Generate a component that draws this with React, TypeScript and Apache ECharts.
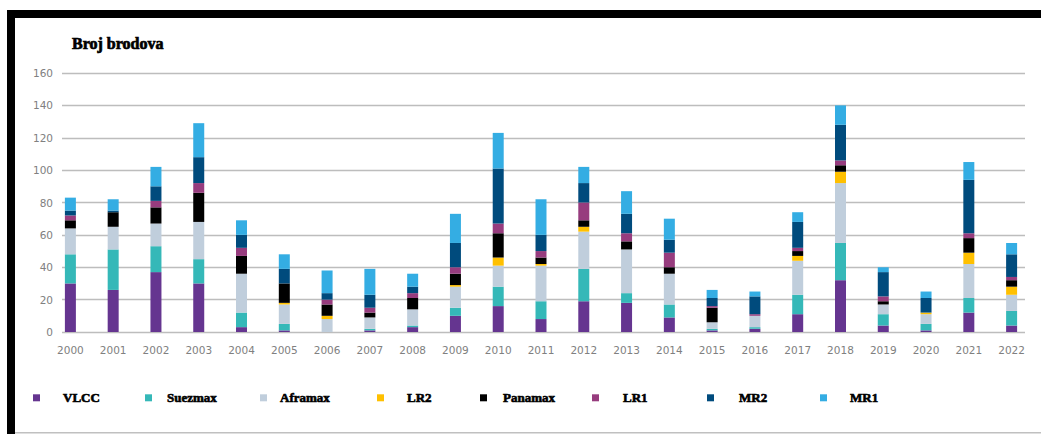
import React, { useEffect, useRef } from "react";
import * as echarts from "echarts";

const years = ["2000","2001","2002","2003","2004","2005","2006","2007","2008","2009","2010","2011","2012","2013","2014","2015","2016","2017","2018","2019","2020","2021","2022"];
const yTicks = [0, 20, 40, 60, 80, 100, 120, 140, 160];

const vlcc =    [30, 26, 37, 30, 3, 1, 0, 1, 3, 10, 16, 8, 19, 18, 9, 1, 2, 11, 32, 4, 1, 12, 4];
const suezmax = [18, 25, 16, 15, 9, 4, 0, 1, 1, 5, 12, 11, 20, 6, 8, 1, 1, 12, 23, 7, 4, 9, 9];
const aframax = [16, 14, 14, 23, 24, 12, 8, 7, 10, 13, 13, 22, 23, 27, 19, 4, 7, 21, 37, 6, 6, 21, 10];
const lr2 =     [0, 0, 0, 0, 0, 1, 2, 0, 0, 1, 5, 1, 3, 0, 0, 0, 0, 3, 7, 0, 1, 7, 5];
const panamax = [5, 9, 10, 18, 11, 12, 7, 3, 7, 7, 15, 4, 4, 5, 4, 9, 0, 3, 4, 2, 0, 9, 4];
const lr1 =     [3, 0, 4, 6, 5, 0, 3, 3, 3, 4, 6, 4, 11, 5, 9, 1, 1, 2, 3, 3, 0, 3, 2];
const mr2 =     [3, 1, 9, 16, 8, 9, 4, 8, 4, 15, 34, 10, 12, 12, 8, 5, 11, 16, 22, 15, 9, 33, 14];
const mr1 =     [8, 7, 12, 21, 9, 9, 14, 16, 8, 18, 22, 22, 10, 14, 13, 5, 3, 6, 12, 3, 4, 11, 7];

const seriesNames = ["VLCC", "Suezmax", "Aframax", "LR2", "Panamax", "LR1", "MR2", "MR1"];
const seriesData = [vlcc, suezmax, aframax, lr2, panamax, lr1, mr2, mr1];
const colors = ["#653590", "#35B8B8", "#C0CEDC", "#FFC000", "#000000", "#973C7E", "#004B7D", "#34ADE3"];

// legend layout (marker left, text start)
const legendMarkerX = [33, 145, 260, 377, 480, 592, 707, 820];
const legendTextX = [63, 167, 280, 407, 503, 623, 739, 850];

export default function App() {
  const ref = useRef<HTMLDivElement>(null);
  useEffect(() => {
    if (!ref.current) return;
    const chart = echarts.init(ref.current, undefined, { renderer: "svg" });
    const labelColor = "#808080";
    const option: any = {
      animation: false,
      backgroundColor: "#ffffff",
      title: {
        text: "Broj brodova",
        left: 72,
        top: 35,
        padding: 0,
        textStyle: {
          fontFamily: "Liberation Serif",
          fontWeight: "bold",
          fontSize: 16,
          color: "#000",
          textBorderColor: "#000",
          textBorderWidth: 0.7,
        },
      },
      legend: seriesNames.map((n, i) => ({
        data: [n],
        left: legendMarkerX[i],
        top: 391,
        padding: 0,
        icon: "rect",
        itemWidth: 7,
        itemHeight: 7,
        selectedMode: false,
        textStyle: {
          fontFamily: "Liberation Serif",
          fontWeight: "bold",
          fontSize: 13,
          color: "#000",
          textBorderColor: "#000",
          textBorderWidth: 0.6,
          padding: [0, 0, 0, legendTextX[i] - legendMarkerX[i] - 12],
        },
      })),
      grid: [
        { left: 62, right: 16, top: 73, bottom: 102 },
        { left: 49, right: 8, top: 73, bottom: 102 },
      ],
      xAxis: [
        { type: "category", gridIndex: 0, data: years, show: false },
        {
          type: "category",
          gridIndex: 1,
          data: years,
          axisLine: { show: false },
          axisTick: { show: false },
          axisLabel: { color: labelColor, fontFamily: "DejaVu Sans", fontSize: 10.5, margin: 12, interval: 0 },
        },
      ],
      yAxis: [
        {
          type: "value",
          gridIndex: 0,
          min: yTicks[0],
          max: yTicks[yTicks.length - 1],
          interval: yTicks[1] - yTicks[0],
          axisLine: { show: false },
          axisTick: { show: false },
          axisLabel: { color: labelColor, fontFamily: "DejaVu Sans", fontSize: 10.5, margin: 9 },
          splitLine: { lineStyle: { color: "#bdbdbd", width: 1.3 } },
        },
        {
          type: "value",
          gridIndex: 1,
          min: yTicks[0],
          max: yTicks[yTicks.length - 1],
          interval: yTicks[1] - yTicks[0],
          show: false,
          splitLine: { show: false },
        },
      ],
      graphic: [
        { type: "rect", shape: { x: 7, y: 10, width: 1034, height: 8 }, style: { fill: "#000" } },
        { type: "rect", shape: { x: 7, y: 10, width: 8, height: 424 }, style: { fill: "#000" } },
        { type: "rect", shape: { x: 15, y: 432, width: 1026, height: 1.5 }, style: { fill: "#c0c0c0" } },
      ],
      series: seriesNames.map((n, i) => ({
        name: n,
        type: "bar",
        stack: "total",
        xAxisIndex: 1,
        yAxisIndex: 1,
        barWidth: 11,
        data: seriesData[i],
        itemStyle: { color: colors[i] },
      })),
    };
    chart.setOption(option);
    return () => chart.dispose();
  }, []);
  return <div ref={ref} style={{ position: "absolute", left: 0, top: 0, width: 1041, height: 434 }} />;
}
